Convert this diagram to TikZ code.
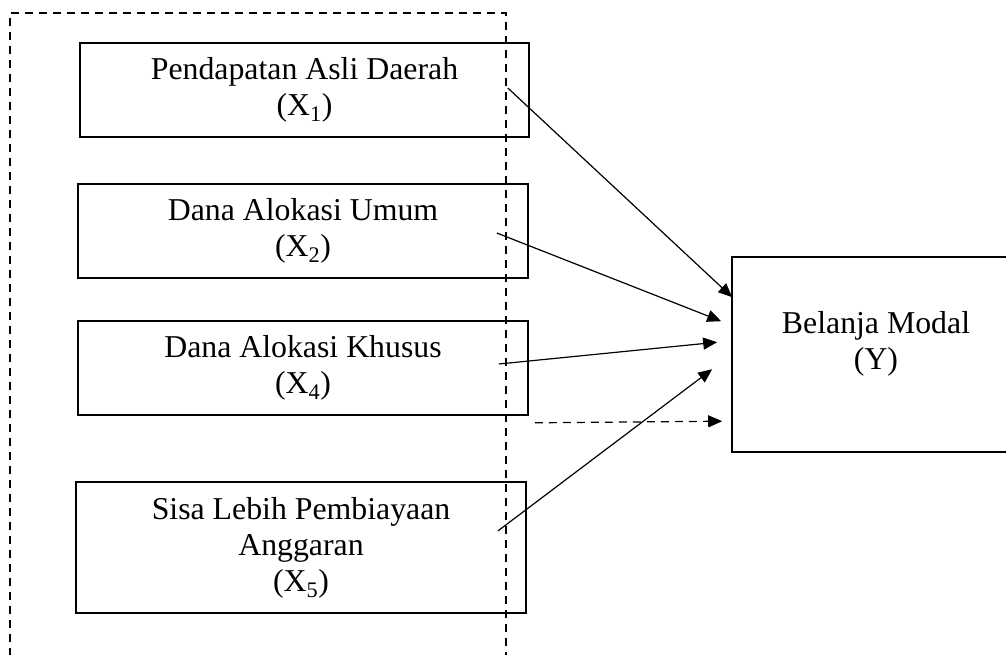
\documentclass[tikz,border=0pt]{standalone}
\usepackage{fontspec}
\setmainfont{Liberation Serif}
\usetikzlibrary{arrows.meta,calc}

\begin{document}
\begin{tikzpicture}[x=1pt,y=-1pt,
    every node/.style={font=\fontsize{31.8}{36}\selectfont},
    kotak/.style={draw,line width=1.6pt,inner sep=0pt,align=center,
      minimum width=450pt,minimum height=94pt},
    panah/.style={line width=1.2pt,-{Triangle[length=14pt,width=12pt]}}]
  \useasboundingbox (0,0) rectangle (1006,654);
  \draw[line width=1.5pt,dash pattern=on 8pt off 6pt] (10,670) -- (10,13)
    -- (506,13) -- (506,670);
  \node[kotak,minimum width=449pt] (pad) at (304.5,90)
    {Pendapatan Asli Daerah\\(X\textsubscript{1})};
  \node[kotak] (dau) at (303,231) {Dana Alokasi Umum\\(X\textsubscript{2})};
  \node[kotak] (dak) at (303,368) {Dana Alokasi Khusus\\(X\textsubscript{4})};
  \node[kotak,minimum height=131pt] (silpa) at (301,547.5)
    {Sisa Lebih Pembiayaan\\Anggaran\\(X\textsubscript{5})};
  \node[kotak,minimum width=288pt,minimum height=195pt] (belanja)
    at (876,354.5) {};
  \node[align=center] (belanjateks) at (876,344) {Belanja Modal\\(Y)};
  \coordinate (lain) at ($(dak.south east)+(6,7)$);
  \draw[panah] ($(pad.east)+(-22,-2)$) -- ($(belanja.north west)+(1,41)$);
  \draw[panah] ($(dau.east)+(-32,2)$) -- ($(belanja.north west)+(-10,65)$);
  \draw[panah] ($(dak.east)+(-30,-4)$) -- ($(belanja.north west)+(-14,86)$);
  \draw[panah] ($(silpa.east)+(-29,-16.5)$)
    -- ($(belanja.north west)+(-19,113)$);
  \draw[panah,dash pattern=on 8pt off 6pt] (lain)
    -- ($(belanja.north west)+(-9,165)$);
\end{tikzpicture}
\end{document}
